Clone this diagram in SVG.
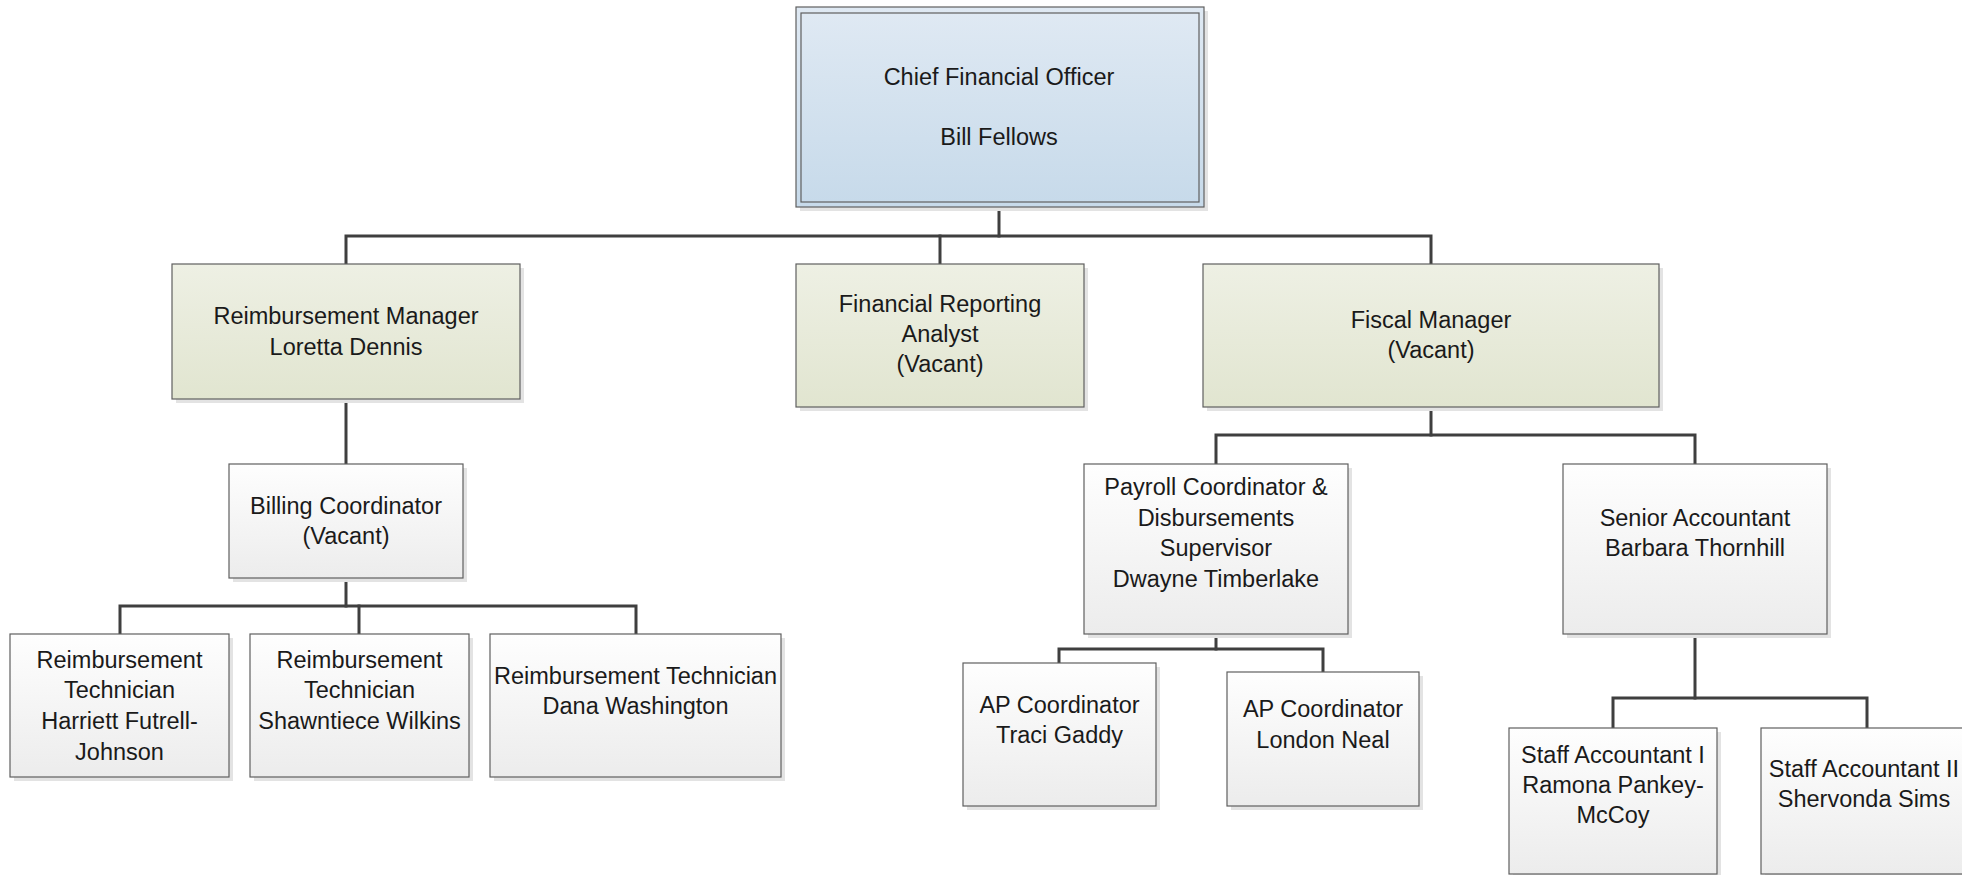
<svg xmlns="http://www.w3.org/2000/svg" width="1962" height="875" viewBox="0 0 1962 875">
<defs>
<linearGradient id="gBlue" x1="0" y1="0" x2="0" y2="1">
<stop offset="0" stop-color="#dfe9f3"/>
<stop offset="1" stop-color="#c7daea"/>
</linearGradient>
<linearGradient id="gGreen" x1="0" y1="0" x2="0" y2="1">
<stop offset="0" stop-color="#eef0e4"/>
<stop offset="1" stop-color="#e1e5d0"/>
</linearGradient>
<linearGradient id="gGray" x1="0" y1="0" x2="0" y2="1">
<stop offset="0" stop-color="#fefefe"/>
<stop offset="1" stop-color="#ececec"/>
</linearGradient>
<style>
.sh{fill:#e3e3e3;}
.bx{stroke:#5f5f5f;stroke-width:1.2;}
.blue{fill:url(#gBlue);}
.green{fill:url(#gGreen);}
.gray{fill:url(#gGray);}
.t{font-family:"Liberation Sans",Arial,sans-serif;font-size:23.5px;fill:#1a1a1a;text-anchor:middle;}
.cn{stroke:#3f3f3f;stroke-width:3;fill:none;stroke-linecap:square;stroke-linejoin:miter;}
</style>
</defs>
<rect width="1962" height="875" fill="#ffffff"/>
<g id="connectors">
<path class="cn" d="M999 207 V236"/>
<path class="cn" d="M346 264 V236 H1431 V264"/>
<path class="cn" d="M940 236 V264"/>
<path class="cn" d="M346 399 V464"/>
<path class="cn" d="M346 578 V606"/>
<path class="cn" d="M120 634 V606 H636 V634"/>
<path class="cn" d="M359 606 V634"/>
<path class="cn" d="M1431 407 V435"/>
<path class="cn" d="M1216 464 V435 H1695 V464"/>
<path class="cn" d="M1216 634 V649"/>
<path class="cn" d="M1059 663 V649 H1323 V672"/>
<path class="cn" d="M1695 634 V698"/>
<path class="cn" d="M1613 728 V698 H1867 V728"/>
</g>
<g id="cfo">
<rect class="sh" x="800" y="11" width="408" height="200"/>
<rect class="bx blue" x="796" y="7" width="408" height="200"/>
<rect class="bx blue" x="801" y="13" width="398" height="189" stroke="#4f4f4f"/>
<text class="t" x="999" y="85">Chief Financial Officer</text>
<text class="t" x="999" y="145">Bill Fellows</text>
</g>
<g id="reimbursement-manager">
<rect class="sh" x="176" y="268" width="348" height="135"/>
<rect class="bx green" x="172" y="264" width="348" height="135"/>
<text class="t" x="346" y="324">Reimbursement Manager</text>
<text class="t" x="346" y="355">Loretta Dennis</text>
</g>
<g id="financial-reporting-analyst">
<rect class="sh" x="800" y="268" width="288" height="143"/>
<rect class="bx green" x="796" y="264" width="288" height="143"/>
<text class="t" x="940" y="312">Financial Reporting</text>
<text class="t" x="940" y="342">Analyst</text>
<text class="t" x="940" y="372">(Vacant)</text>
</g>
<g id="fiscal-manager">
<rect class="sh" x="1207" y="268" width="456" height="143"/>
<rect class="bx green" x="1203" y="264" width="456" height="143"/>
<text class="t" x="1431" y="328">Fiscal Manager</text>
<text class="t" x="1431" y="358">(Vacant)</text>
</g>
<g id="billing-coordinator">
<rect class="sh" x="233" y="468" width="234" height="114"/>
<rect class="bx gray" x="229" y="464" width="234" height="114"/>
<text class="t" x="346" y="514">Billing Coordinator</text>
<text class="t" x="346" y="544">(Vacant)</text>
</g>
<g id="tech-harriett">
<rect class="sh" x="14" y="638" width="219" height="143"/>
<rect class="bx gray" x="10" y="634" width="219" height="143"/>
<text class="t" x="119.5" y="668">Reimbursement</text>
<text class="t" x="119.5" y="698">Technician</text>
<text class="t" x="119.5" y="729">Harriett Futrell-</text>
<text class="t" x="119.5" y="760">Johnson</text>
</g>
<g id="tech-shawntiece">
<rect class="sh" x="254" y="638" width="219" height="143"/>
<rect class="bx gray" x="250" y="634" width="219" height="143"/>
<text class="t" x="359.5" y="668">Reimbursement</text>
<text class="t" x="359.5" y="698">Technician</text>
<text class="t" x="359.5" y="729">Shawntiece Wilkins</text>
</g>
<g id="tech-dana">
<rect class="sh" x="494" y="638" width="291" height="143"/>
<rect class="bx gray" x="490" y="634" width="291" height="143"/>
<text class="t" x="635.5" y="684">Reimbursement Technician</text>
<text class="t" x="635.5" y="714">Dana Washington</text>
</g>
<g id="payroll-coordinator">
<rect class="sh" x="1088" y="468" width="264" height="170"/>
<rect class="bx gray" x="1084" y="464" width="264" height="170"/>
<text class="t" x="1216" y="495">Payroll Coordinator &amp;</text>
<text class="t" x="1216" y="526">Disbursements</text>
<text class="t" x="1216" y="556">Supervisor</text>
<text class="t" x="1216" y="587">Dwayne Timberlake</text>
</g>
<g id="senior-accountant">
<rect class="sh" x="1567" y="468" width="264" height="170"/>
<rect class="bx gray" x="1563" y="464" width="264" height="170"/>
<text class="t" x="1695" y="526">Senior Accountant</text>
<text class="t" x="1695" y="556">Barbara Thornhill</text>
</g>
<g id="ap-traci">
<rect class="sh" x="967" y="667" width="193" height="143"/>
<rect class="bx gray" x="963" y="663" width="193" height="143"/>
<text class="t" x="1059.5" y="713">AP Coordinator</text>
<text class="t" x="1059.5" y="743">Traci Gaddy</text>
</g>
<g id="ap-london">
<rect class="sh" x="1231" y="676" width="192" height="134"/>
<rect class="bx gray" x="1227" y="672" width="192" height="134"/>
<text class="t" x="1323" y="717">AP Coordinator</text>
<text class="t" x="1323" y="748">London Neal</text>
</g>
<g id="staff-ramona">
<rect class="sh" x="1513" y="732" width="208" height="146"/>
<rect class="bx gray" x="1509" y="728" width="208" height="146"/>
<text class="t" x="1613" y="763">Staff Accountant I</text>
<text class="t" x="1613" y="793">Ramona Pankey-</text>
<text class="t" x="1613" y="823">McCoy</text>
</g>
<g id="staff-shervonda">
<rect class="sh" x="1765" y="732" width="208" height="146"/>
<rect class="bx gray" x="1761" y="728" width="208" height="146"/>
<text class="t" x="1864" y="777">Staff Accountant II</text>
<text class="t" x="1864" y="807">Shervonda Sims</text>
</g>
</svg>
